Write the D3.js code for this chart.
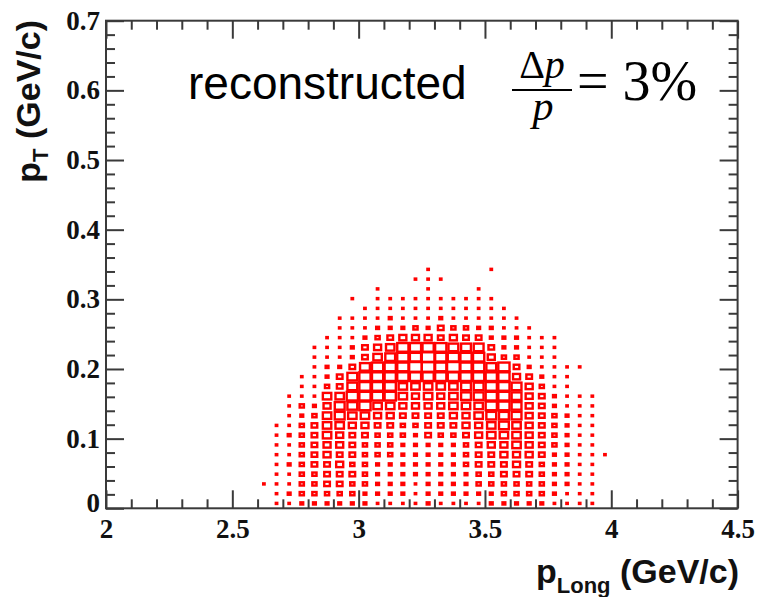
<!DOCTYPE html>
<html>
<head>
<meta charset="utf-8">
<script src="https://cdn.jsdelivr.net/npm/d3@7"></script>
<style>
  body { margin: 0; background: #fff; }
  svg { display: block; }
</style>
</head>
<body>
<svg id="chart"></svg>
<script>
// binning of the 2D histogram (50 x 50 bins)
const xRange = [2, 4.5];
const yRange = [0, 0.7];
const xBinW = 0.05;
const yBinH = 0.014;
const firstXBin = 12; // bin index of the first column below

// box content per x bin, listed from the lowest y bin upward
const boxCounts = [
    [0,0,1],
    [1,1,1,1,1,1,1,1,1],
    [1,2,1,1,2,1,1,2,1,1,1,1],
    [2,3,3,3,3,3,3,3,3,2,3,1,1,1],
    [2,3,3,3,4,4,4,4,4,3,2,1,1,1,1,1,1],
    [2,3,4,4,4,5,5,6,6,6,5,6,3,2,2,1,1,1],
    [2,3,4,4,5,4,5,5,6,7,7,6,4,4,2,1,1,1,1,1],
    [2,3,3,4,3,4,4,4,5,6,7,8,7,7,4,2,2,1,1,1,0,1],
    [2,2,3,3,3,3,3,4,5,6,8,8,8,8,7,4,4,2,1,1,1],
    [1,2,2,2,2,3,3,3,4,5,6,8,8,8,8,6,5,3,2,1,1,1,1],
    [1,2,2,2,2,3,3,3,4,5,6,8,8,8,8,7,6,4,2,2,1,1],
    [1,2,2,2,2,2,2,3,3,4,5,6,6,8,8,8,8,5,2,1,1,1],
    [1,1,1,2,2,2,2,2,3,4,5,5,6,8,9,8,8,5,3,1,1,1,0,1],
    [2,2,2,2,2,2,2,4,4,4,5,6,6,8,9,9,8,5,2,1,1,1,1,1,1],
    [1,2,2,2,2,2,2,3,4,4,5,5,6,8,8,8,8,4,4,2,1,1,0,1],
    [1,2,2,2,2,2,2,3,4,5,6,6,6,8,9,8,7,5,3,1,1,1],
    [1,2,2,2,3,3,3,4,5,5,6,7,7,8,8,8,7,4,3,1,1,1],
    [1,2,3,3,4,4,4,5,5,6,6,7,7,8,8,8,7,4,2,1,1,1,1],
    [2,2,3,3,4,4,5,6,6,7,8,8,8,8,7,5,4,2,2,1,1,1,0,0,1],
    [2,3,3,4,4,5,5,6,7,7,8,8,8,8,8,3,2,2,1,1,1],
    [2,3,3,4,5,5,6,6,6,7,7,7,7,5,4,3,2,2,1,1],
    [2,3,3,4,4,5,5,5,5,5,5,5,5,4,2,1,1,1,1],
    [2,3,3,3,3,4,4,4,4,4,4,4,3,2,1,1,1,1],
    [1,2,2,2,2,2,3,3,3,3,2,2,1,1,1,1,1,1],
    [1,1,2,2,2,2,2,2,2,2,1,1,1,1,1],
    [1,1,1,1,1,1,1,1,1,1,1,1,0,0,1],
    [1,1,1,1,1,1,1,1,1,1,1,1],
    [0,0,0,0,0,1]
];
const zMax = 9;

const xMajor = [2, 2.5, 3, 3.5, 4, 4.5];
const xLabels = ["2", "2.5", "3", "3.5", "4", "4.5"];
const yMajor = [0, 0.1, 0.2, 0.3, 0.4, 0.5, 0.6, 0.7];
const yLabels = ["0", "0.1", "0.2", "0.3", "0.4", "0.5", "0.6", "0.7"];

const width = 757;
const height = 597;
const frame = { left: 106, right: 737.6, top: 20.7, bottom: 508.3 };

const svg = d3.select("#chart").attr("width", width).attr("height", height);

const x = d3.scaleLinear().domain(xRange).range([frame.left, frame.right]);
const y = d3.scaleLinear().domain(yRange).range([frame.bottom, frame.top]);
const boxFrac = d3.scaleLinear().domain([0, zMax]).range([0, 1]).clamp(true);

// flatten to cells
const cells = [];
boxCounts.forEach((col, i) => {
    col.forEach((v, j) => {
        if (v > 0) cells.push({ ix: firstXBin + i, iy: j, v: v });
    });
});

const binW = x(xBinW) - x(0);
const binH = y(0) - y(yBinH);

svg.append("g")
    .selectAll("rect")
    .data(cells)
    .enter()
    .append("rect")
    .attr("x", d => x(xRange[0] + (d.ix + 0.5) * xBinW) - binW * boxFrac(d.v) / 2)
    .attr("y", d => y((d.iy + 0.5) * yBinH) - binH * boxFrac(d.v) / 2)
    .attr("width", d => binW * boxFrac(d.v))
    .attr("height", d => binH * boxFrac(d.v))
    .attr("fill", "none")
    .attr("stroke", "#ff0000")
    .attr("stroke-width", 2.4);

// axes (ROOT style: ticks inside, on all four sides)
const xMinor = d3.range(20, 46).map(v => v / 10).filter(v => !xMajor.includes(v));
const yMinor = d3.range(0, 36).map(v => v / 50).filter(v => !yMajor.some(m => Math.abs(m - v) < 1e-9));
const axisColor = "#3a3a3a";

function styleAxis(g) {
    g.select(".domain").remove();
    g.selectAll("line").attr("stroke", axisColor).attr("stroke-width", 2);
}

svg.append("g").attr("transform", `translate(0,${frame.bottom})`)
    .call(d3.axisBottom(x).tickValues(xMinor).tickSize(-9).tickFormat(""))
    .call(styleAxis);
const xAx = svg.append("g").attr("transform", `translate(0,${frame.bottom})`)
    .call(d3.axisBottom(x).tickValues(xMajor).tickSize(-18).tickPadding(11)
        .tickFormat((d, i) => xLabels[i]))
    .call(styleAxis);
svg.append("g").attr("transform", `translate(0,${frame.top})`)
    .call(d3.axisTop(x).tickValues(xMinor).tickSize(-9).tickFormat(""))
    .call(styleAxis);
svg.append("g").attr("transform", `translate(0,${frame.top})`)
    .call(d3.axisTop(x).tickValues(xMajor).tickSize(-18).tickFormat(""))
    .call(styleAxis);

svg.append("g").attr("transform", `translate(${frame.left},0)`)
    .call(d3.axisLeft(y).tickValues(yMinor).tickSize(-9).tickFormat(""))
    .call(styleAxis);
const yAx = svg.append("g").attr("transform", `translate(${frame.left},0)`)
    .call(d3.axisLeft(y).tickValues(yMajor).tickSize(-18).tickPadding(6)
        .tickFormat((d, i) => yLabels[i]))
    .call(styleAxis);
svg.append("g").attr("transform", `translate(${frame.right},0)`)
    .call(d3.axisRight(y).tickValues(yMinor).tickSize(-9).tickFormat(""))
    .call(styleAxis);
svg.append("g").attr("transform", `translate(${frame.right},0)`)
    .call(d3.axisRight(y).tickValues(yMajor).tickSize(-18).tickFormat(""))
    .call(styleAxis);

[xAx, yAx].forEach(g => g.selectAll("text")
    .attr("fill", "#111")
    .style("font-family", "'Liberation Serif', 'DejaVu Serif', serif")
    .style("font-weight", "bold")
    .style("font-size", "27px"));
// ROOT lifts the "0" label off the corner
yAx.selectAll(".tick").filter(d => d === 0).select("text").attr("dy", "0.12em");

// frame
svg.append("rect")
    .attr("x", frame.left).attr("y", frame.top)
    .attr("width", frame.right - frame.left).attr("height", frame.bottom - frame.top)
    .attr("fill", "none").attr("stroke", axisColor).attr("stroke-width", 2);

// axis titles
const titleFont = "'Liberation Sans', Arial, sans-serif";
const xTitle = svg.append("text")
    .attr("x", 739).attr("y", 583)
    .attr("text-anchor", "end")
    .style("font-family", titleFont).style("font-weight", "bold").style("font-size", "34px")
    .attr("fill", "#111");
xTitle.append("tspan").text("p");
xTitle.append("tspan").attr("dy", 10).style("font-size", "22px").text("Long");
xTitle.append("tspan").attr("dy", -10).text(" (GeV/c)");

const yTitle = svg.append("text")
    .attr("transform", "translate(40,20) rotate(-90)")
    .attr("text-anchor", "end")
    .style("font-family", titleFont).style("font-weight", "bold").style("font-size", "34px")
    .attr("fill", "#111");
yTitle.append("tspan").text("p");
yTitle.append("tspan").attr("dy", 8).style("font-size", "22px").text("T");
yTitle.append("tspan").attr("dy", -8).text(" (GeV/c)");

// annotation
svg.append("text")
    .attr("x", 188).attr("y", 99)
    .style("font-family", titleFont).style("font-size", "46px")
    .attr("fill", "#000")
    .text("reconstructed");

const serif = "'Liberation Serif', 'Times New Roman', serif";
const num = svg.append("text")
    .attr("x", 542).attr("y", 78)
    .attr("text-anchor", "middle")
    .style("font-family", serif).style("font-size", "40px");
num.append("tspan").text("\u0394");
num.append("tspan").style("font-style", "italic").text("p");
svg.append("line")
    .attr("x1", 512).attr("x2", 572).attr("y1", 90).attr("y2", 90)
    .attr("stroke", "#000").attr("stroke-width", 2);
svg.append("text")
    .attr("x", 543).attr("y", 120)
    .attr("text-anchor", "middle")
    .style("font-family", serif).style("font-size", "42px").style("font-style", "italic")
    .text("p");
svg.append("text")
    .attr("x", 577).attr("y", 100)
    .style("font-family", serif).style("font-size", "56px")
    .text("= 3%");
</script>
</body>
</html>
